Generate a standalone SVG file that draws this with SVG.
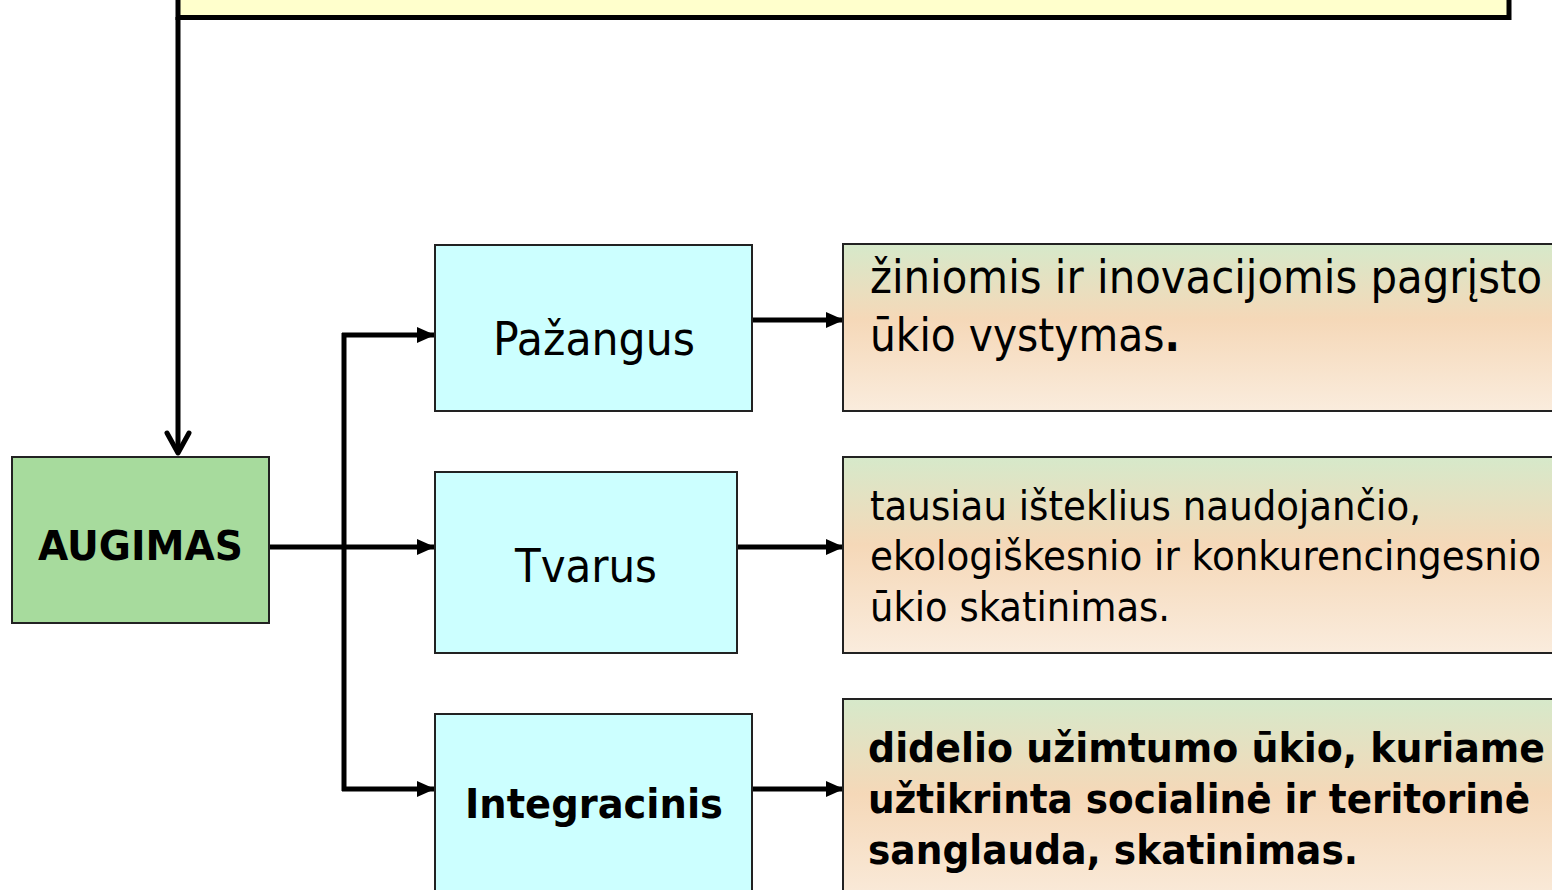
<svg xmlns="http://www.w3.org/2000/svg" width="1552" height="890" viewBox="0 0 1552 890">
<style>
.box{stroke:#222;stroke-width:2}
.cyan{fill:#CCFFFF}
.txt{font-family:"DejaVu Sans","Liberation Sans",sans-serif;fill:#000}
.b{font-weight:bold}
.con{stroke:#000;stroke-width:5;fill:none}
</style>
<defs>
<linearGradient id="peach" x1="0" y1="0" x2="0" y2="1">
<stop offset="0" stop-color="#D6E9CA"/>
<stop offset="0.45" stop-color="#F5D8B8"/>
<stop offset="1" stop-color="#FAECDD"/>
</linearGradient>
<marker id="tri" markerWidth="18" markerHeight="16" refX="17" refY="8" orient="auto" markerUnits="userSpaceOnUse">
<path d="M0,0 L18,8 L0,16 Z" fill="#000"/>
</marker>
</defs>

<g id="top-box">
<rect x="178" y="-20" width="1331" height="37.5" fill="#FFFFCC" stroke="#000" stroke-width="5"/>
</g>

<g id="connectors">
<line class="con" x1="178" y1="17" x2="178" y2="452"/>
<path d="M167,433 L178,453 L189,433" fill="none" stroke="#000" stroke-width="5" stroke-linecap="round" stroke-linejoin="round"/>
<line class="con" x1="269" y1="547" x2="434" y2="547" marker-end="url(#tri)"/>
<line class="con" x1="344" y1="333" x2="344" y2="791"/>
<line class="con" x1="342" y1="335" x2="434" y2="335" marker-end="url(#tri)"/>
<line class="con" x1="342" y1="789" x2="434" y2="789" marker-end="url(#tri)"/>
<line class="con" x1="752" y1="320" x2="843" y2="320" marker-end="url(#tri)"/>
<line class="con" x1="737" y1="547" x2="843" y2="547" marker-end="url(#tri)"/>
<line class="con" x1="752" y1="789" x2="843" y2="789" marker-end="url(#tri)"/>
</g>

<g id="augimas">
<rect class="box" x="12" y="457" width="257" height="166" fill="#A7DB9D"/>
<text class="txt b" x="38" y="560" font-size="40" textLength="205" lengthAdjust="spacingAndGlyphs">AUGIMAS</text>
</g>

<g id="pazangus">
<rect class="box cyan" x="435" y="245" width="317" height="166"/>
<text class="txt" x="493" y="355" font-size="46" textLength="202" lengthAdjust="spacingAndGlyphs">Pažangus</text>
</g>

<g id="tvarus">
<rect class="box cyan" x="435" y="472" width="302" height="181"/>
<text class="txt" x="515" y="582" font-size="46" textLength="142" lengthAdjust="spacingAndGlyphs">Tvarus</text>
</g>

<g id="integracinis">
<rect class="box cyan" x="435" y="714" width="317" height="190"/>
<text class="txt b" x="465" y="818" font-size="40" textLength="258" lengthAdjust="spacingAndGlyphs">Integracinis</text>
</g>

<g id="desc1">
<rect class="box" x="843" y="244" width="720" height="167" fill="url(#peach)"/>
<text class="txt" x="870" y="293" font-size="46" textLength="672" lengthAdjust="spacingAndGlyphs">žiniomis ir inovacijomis pagrįsto</text>
<text class="txt" x="870" y="351" font-size="46" textLength="310" lengthAdjust="spacingAndGlyphs">ūkio vystymas<tspan class="b">.</tspan></text>
</g>

<g id="desc2">
<rect class="box" x="843" y="457" width="720" height="196" fill="url(#peach)"/>
<text class="txt" x="870" y="520" font-size="41" textLength="551" lengthAdjust="spacingAndGlyphs">tausiau išteklius naudojančio,</text>
<text class="txt" x="870" y="570" font-size="41" textLength="671" lengthAdjust="spacingAndGlyphs">ekologiškesnio ir konkurencingesnio</text>
<text class="txt" x="870" y="621" font-size="41" textLength="300" lengthAdjust="spacingAndGlyphs">ūkio skatinimas.</text>
</g>

<g id="desc3">
<rect class="box" x="843" y="699" width="720" height="210" fill="url(#peach)"/>
<text class="txt b" x="868" y="762" font-size="40" textLength="677" lengthAdjust="spacingAndGlyphs">didelio užimtumo ūkio, kuriame</text>
<text class="txt b" x="868" y="813" font-size="40" textLength="662" lengthAdjust="spacingAndGlyphs">užtikrinta socialinė ir teritorinė</text>
<text class="txt b" x="868" y="864" font-size="40" textLength="490" lengthAdjust="spacingAndGlyphs">sanglauda, skatinimas.</text>
</g>
</svg>
